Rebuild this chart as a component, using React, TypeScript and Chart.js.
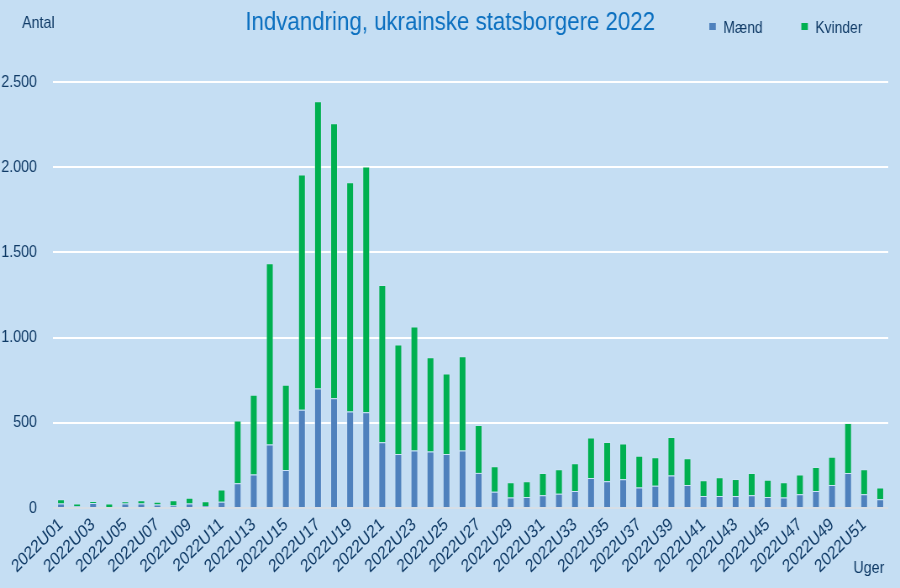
import React, { useEffect, useRef } from "react";
import { Chart, registerables } from "chart.js";

Chart.register(...registerables);

const weeks: string[] = Array.from({ length: 52 }, (_, i) => `2022U${String(i + 1).padStart(2, "0")}`);

const maend: number[] = [
  26, 10, 30, 6, 26, 26, 20, 14, 26, 12,
  37, 145, 196, 372, 223, 577, 702, 644, 566, 562,
  386, 317, 337, 331, 317, 337, 206, 95, 61, 65,
  75, 84, 100, 176, 157, 168, 120, 131, 190, 135,
  70, 70, 70, 75, 65, 61, 80, 100, 135, 206,
  80, 51,
];

const kvinder: number[] = [
  25, 16, 10, 20, 14, 19, 16, 31, 34, 28,
  72, 368, 469, 1064, 501, 1380, 1685, 1614, 1346, 1442,
  923, 643, 728, 554, 472, 554, 281, 150, 90, 92,
  131, 143, 162, 237, 230, 210, 187, 167, 227, 157,
  93, 110, 100, 131, 101, 90, 116, 141, 166, 293,
  147, 70,
];

const yTicks: number[] = [0, 500, 1000, 1500, 2000, 2500];

const TITLE = "Indvandring, ukrainske statsborgere 2022";
const Y_TITLE = "Antal";
const X_TITLE = "Uger";

// The reference uses a narrow typeface; the canvas is drawn wider and shown
// squeezed horizontally to reproduce that narrow look.
const SX = 0.84;
const VW = 900;
const VH = 588;
const IW = Math.round(VW / SX);
const ix = (x: number) => x / SX;

const FONT = '"Liberation Sans", Arial, sans-serif';
const BG = "#C5DEF3";
const TEXT = "#0F3A66";
const BLUE = "#4F81BD";
const GREEN = "#00B050";

function fmt(v: number): string {
  return String(v).replace(/\B(?=(\d{3})+(?!\d))/g, ".");
}

const decorPlugin = {
  id: "decor",
  beforeDraw(chart: any) {
    const { ctx, width, height } = chart;
    ctx.save();
    ctx.fillStyle = BG;
    ctx.fillRect(0, 0, width, height);
    ctx.restore();
  },
  afterDraw(chart: any) {
    const { ctx } = chart;
    ctx.save();
    // title
    ctx.fillStyle = "#0C70C0";
    ctx.font = `26.5px ${FONT}`;
    ctx.textAlign = "center";
    ctx.textBaseline = "alphabetic";
    ctx.fillText(TITLE, ix(450), 30);
    // axis titles
    ctx.fillStyle = TEXT;
    ctx.font = `17px ${FONT}`;
    ctx.textAlign = "left";
    ctx.fillText(Y_TITLE, ix(22), 28);
    ctx.fillText(X_TITLE, ix(853), 573);
    // legend
    ctx.font = `16.5px ${FONT}`;
    const items = chart.data.datasets.map((d: any) => ({ label: d.label, color: d.backgroundColor }));
    const xs = [709, 801];
    items.forEach((it: any, i: number) => {
      ctx.fillStyle = it.color;
      ctx.fillRect(ix(xs[i]), 23, ix(6.5), 7);
      ctx.fillStyle = TEXT;
      ctx.fillText(it.label, ix(xs[i] + 14), 33);
    });
    ctx.restore();
  },
};

export default function App() {
  const ref = useRef<HTMLCanvasElement | null>(null);

  useEffect(() => {
    document.body.style.margin = "0";
    const canvas = ref.current;
    if (!canvas) return;
    const chart = new Chart(canvas, {
      type: "bar",
      data: {
        labels: weeks,
        datasets: [
          {
            label: "Mænd",
            data: maend,
            backgroundColor: BLUE,
            borderColor: "rgba(215,232,250,0.4)",
            borderWidth: 1,
            barPercentage: 0.47,
            categoryPercentage: 1,
          },
          {
            label: "Kvinder",
            data: kvinder,
            backgroundColor: GREEN,
            borderColor: "rgba(215,232,250,0.4)",
            borderWidth: 1,
            barPercentage: 0.47,
            categoryPercentage: 1,
          },
        ],
      },
      options: {
        responsive: false,
        animation: false,
        devicePixelRatio: 1,
        layout: { padding: { top: 82, right: IW - Math.round(ix(888)), left: 0, bottom: 0 } },
        plugins: {
          legend: { display: false },
          title: { display: false },
          tooltip: { enabled: false },
        },
        scales: {
          x: {
            stacked: true,
            grid: { display: false, drawTicks: false },
            border: { display: false },
            ticks: {
              autoSkip: false,
              maxRotation: 40,
              minRotation: 40,
              padding: 6,
              color: TEXT,
              font: { family: FONT, size: 18 },
              callback: (_v: any, i: number) => (i % 2 === 0 ? weeks[i] : ""),
            },
            afterFit: (s: any) => {
              s.height = 80;
            },
          },
          y: {
            stacked: true,
            min: 0,
            max: 2500,
            afterBuildTicks: (s: any) => {
              s.ticks = yTicks.map((v) => ({ value: v }));
            },
            grid: {
              drawTicks: false,
              lineWidth: 2,
              color: (c: any) => (c.tick && c.tick.value === 0 ? "#D6DEE6" : "#FFFFFF"),
            },
            border: { display: false },
            ticks: {
              padding: Math.round(ix(53) - ix(37)),
              color: TEXT,
              font: { family: FONT, size: 17 },
              callback: (v: any) => fmt(Number(v)),
            },
            afterFit: (s: any) => {
              s.width = Math.round(ix(53));
            },
          },
        },
      },
      plugins: [decorPlugin],
    });
    return () => chart.destroy();
  }, []);

  return (
    <div style={{ width: VW, height: VH, background: BG }}>
      <canvas
        ref={ref}
        width={IW}
        height={VH}
        style={{ display: "block", width: `${VW}px`, height: `${VH}px` }}
      />
    </div>
  );
}
